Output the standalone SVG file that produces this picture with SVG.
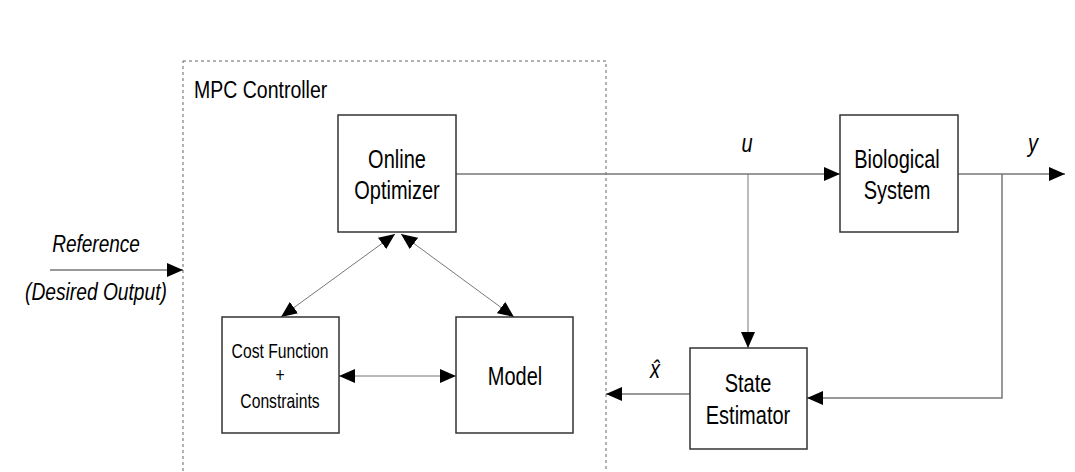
<svg xmlns="http://www.w3.org/2000/svg" width="1075" height="472" viewBox="0 0 1075 472">
<defs>
<marker id="ah" markerUnits="userSpaceOnUse" markerWidth="16" markerHeight="14" refX="16" refY="7" orient="auto-start-reverse" viewBox="0 0 16 14">
<path d="M0,0 L16,7 L0,14 z" fill="#000"/>
</marker>
<style>
.box{fill:#fff;stroke:#333;stroke-width:1.5}
.ln{fill:none;stroke:#777;stroke-width:1.5}
.dg{fill:none;stroke:#777;stroke-width:1}
.t{font-family:"Liberation Sans",Arial,sans-serif;font-size:20px;fill:#000;text-anchor:middle}
.i{font-style:italic}
.s{font-size:15.7px}
</style>
</defs>
<rect width="1075" height="472" fill="#fff"/>
<g id="mpc">
<rect x="183" y="61" width="423" height="430" fill="none" stroke="#666" stroke-width="1" stroke-dasharray="3,3"/>
<text class="t" style="text-anchor:start;font-size:19.5px" transform="translate(194,98) scale(1,1.25)">MPC Controller</text>
</g>
<g id="connectors">
<line class="ln" x1="50" y1="270" x2="183" y2="270" marker-end="url(#ah)"/>
<line class="ln" x1="456" y1="174" x2="840" y2="174" marker-end="url(#ah)"/>
<line class="ln" x1="958" y1="174" x2="1065" y2="174" marker-end="url(#ah)"/>
<line class="dg" x1="748" y1="174" x2="748" y2="348" marker-end="url(#ah)"/>
<polyline class="ln" points="1002,174 1002,398 807,398" marker-end="url(#ah)"/>
<line class="ln" x1="690" y1="394" x2="606" y2="394" marker-end="url(#ah)"/>
<line class="dg" x1="395" y1="234" x2="281" y2="317" marker-start="url(#ah)" marker-end="url(#ah)"/>
<line class="dg" x1="401" y1="234" x2="514" y2="317" marker-start="url(#ah)" marker-end="url(#ah)"/>
<line class="dg" x1="339" y1="376" x2="456" y2="376" marker-start="url(#ah)" marker-end="url(#ah)"/>
</g>
<g id="labels">
<text class="t i" style="font-size:19px" transform="translate(96,252) scale(1,1.28)">Reference</text>
<text class="t i" style="font-size:19.2px" transform="translate(96,300) scale(1,1.28)">(Desired Output)</text>
<text class="t i" transform="translate(747,152) scale(1,1.25)">u</text>
<text class="t i" transform="translate(1033,152) scale(1,1.25)">y</text>
<text class="t i" transform="translate(655,378) scale(1,1.25)">x̂</text>
</g>
<g id="optimizer">
<rect class="box" x="338" y="115" width="118" height="117"/>
<text class="t" transform="translate(397,168) scale(1,1.3)">Online</text>
<text class="t" transform="translate(397,199) scale(1,1.3)">Optimizer</text>
</g>
<g id="biological">
<rect class="box" x="840" y="115" width="118" height="117"/>
<text class="t" transform="translate(897,168) scale(1,1.3)">Biological</text>
<text class="t" transform="translate(897,199) scale(1,1.3)">System</text>
</g>
<g id="cost">
<rect class="box" x="222" y="317" width="117" height="116"/>
<text class="t s" transform="translate(280,358) scale(1,1.3)">Cost Function</text>
<text class="t s" transform="translate(280,382) scale(1,1.3)">+</text>
<text class="t s" transform="translate(280,408) scale(1,1.3)">Constraints</text>
</g>
<g id="model">
<rect class="box" x="456" y="317" width="117" height="116"/>
<text class="t" transform="translate(515,385) scale(1,1.3)">Model</text>
</g>
<g id="estimator">
<rect class="box" x="690" y="348" width="117" height="101"/>
<text class="t" transform="translate(748,392) scale(1,1.3)">State</text>
<text class="t" transform="translate(748,424) scale(1,1.3)">Estimator</text>
</g>
</svg>
